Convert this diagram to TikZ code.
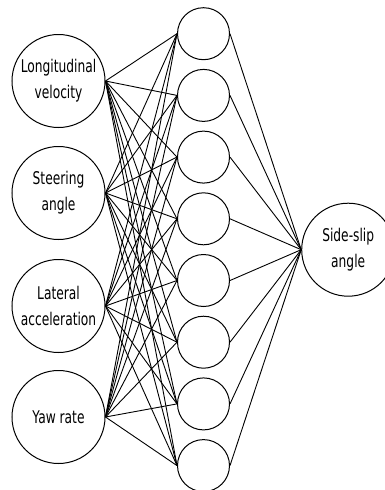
\documentclass[tikz,border=0pt]{standalone}
\usepackage{fontspec}
\setmainfont{DejaVu Sans}[FakeStretch=0.7]
\begin{document}
\begin{tikzpicture}[x=1pt,y=-1pt,
  unit/.style={circle,draw,line width=1pt,inner sep=0pt,
    font=\fontsize{17.5}{26}\selectfont,align=center},
  feature/.style={unit,minimum size=93pt},
  hidden/.style={unit,minimum size=52pt},
  link/.style={line width=0.9pt}]
\useasboundingbox (0,0) rectangle (385,490);

% input layer
\node[feature] (i1) at (58.5,81)  {Longitudinal\\velocity};
\node[feature] (i2) at (58.5,193) {Steering\\angle};
\node[feature] (i3) at (58.5,306) {Lateral\\acceleration};
\node[feature] (i4) at (58.5,417) {Yaw rate};

% hidden layer
\foreach \k in {1,...,8}
  \node[hidden] (h\k) at (203.5,{33.7+61.7*(\k-1)}) {};

% output layer
\node[feature] (o) at (348.2,249.7) {Side-slip\\angle};

% fully connected weights
\foreach \i in {1,...,4}
  \foreach \k in {1,...,8}
    \draw[link] (i\i.east) -- (h\k.west);
\foreach \k in {1,...,8}
  \draw[link] (h\k.east) -- (o.west);
\end{tikzpicture}
\end{document}
